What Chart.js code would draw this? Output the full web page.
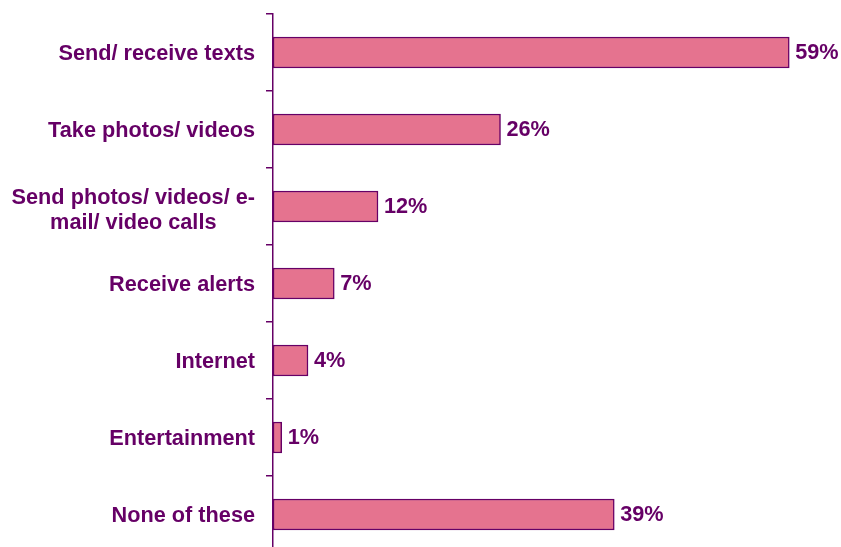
<!DOCTYPE html>
<html lang="en">
<head>
    <meta charset="UTF-8">
    <title>Phone uses</title>
    <style>
        html, body {
            margin: 0;
            padding: 0;
            background: #ffffff;
            overflow: hidden;
        }
        .wrap {
            position: relative;
            width: 841px;
            height: 560px;
        }
    </style>
</head>
<body>
    <div class="wrap">
        <canvas id="usesChart"></canvas>
    </div>

    <script src="https://cdn.jsdelivr.net/npm/chart.js"></script>
    <script>
        var categories = [
            'Send/ receive texts',
            'Take photos/ videos',
            ['Send photos/ videos/ e-', 'mail/ video calls'],
            'Receive alerts',
            'Internet',
            'Entertainment',
            'None of these'
        ];
        var percents = [59, 26, 12, 7, 4, 1, 39];

        var purple = '#660066';
        var pink = '#e5738f';
        var font = 'bold 21.7px "Liberation Sans", Arial, sans-serif';

        // category names, right-aligned against the axis, wrapped lines centred on each other
        var categoryLabels = {
            id: 'categoryLabels',
            afterDraw: function (chart) {
                var ctx = chart.ctx;
                var y = chart.scales.y;
                var right = chart.chartArea.left - 18;
                ctx.save();
                ctx.font = font;
                ctx.fillStyle = purple;
                ctx.textAlign = 'center';
                ctx.textBaseline = 'middle';
                categories.forEach(function (label, i) {
                    var lines = Array.isArray(label) ? label : [label];
                    var widest = Math.max.apply(null, lines.map(function (l) { return ctx.measureText(l).width; }));
                    var cx = right - widest / 2;
                    var cy = y.getPixelForValue(i) + (lines.length > 1 ? 4 : 2);
                    var lh = 25;
                    lines.forEach(function (l, k) {
                        ctx.fillText(l, cx, cy + (k - (lines.length - 1) / 2) * lh);
                    });
                });
                ctx.restore();
            }
        };

        // percentage at the end of each bar
        var valueLabels = {
            id: 'valueLabels',
            afterDatasetsDraw: function (chart) {
                var ctx = chart.ctx;
                var meta = chart.getDatasetMeta(0);
                ctx.save();
                ctx.font = font;
                ctx.fillStyle = purple;
                ctx.textAlign = 'left';
                ctx.textBaseline = 'middle';
                meta.data.forEach(function (bar, i) {
                    ctx.fillText(percents[i] + '%', bar.x + 6, bar.y + 1);
                });
                ctx.restore();
            }
        };

        new Chart(document.getElementById('usesChart'), {
            type: 'bar',
            data: {
                labels: categories,
                datasets: [{
                    data: percents,
                    backgroundColor: pink,
                    borderColor: purple,
                    borderWidth: 1.5,
                    borderSkipped: false,
                    barThickness: 31
                }]
            },
            options: {
                indexAxis: 'y',
                responsive: true,
                maintainAspectRatio: false,
                animation: false,
                layout: {
                    padding: { top: 14, bottom: 7, right: 8, left: 0 }
                },
                plugins: {
                    legend: { display: false },
                    tooltip: { enabled: false }
                },
                scales: {
                    x: {
                        display: false,
                        min: 0,
                        max: 64
                    },
                    y: {
                        afterFit: function (scale) { scale.width = 273; },
                        border: { display: true, color: purple, width: 1.5 },
                        grid: {
                            offset: true,
                            drawOnChartArea: false,
                            drawTicks: true,
                            tickLength: 7,
                            color: purple,
                            lineWidth: 1.5
                        },
                        ticks: { display: false }
                    }
                }
            },
            plugins: [categoryLabels, valueLabels]
        });
    </script>
</body>
</html>
